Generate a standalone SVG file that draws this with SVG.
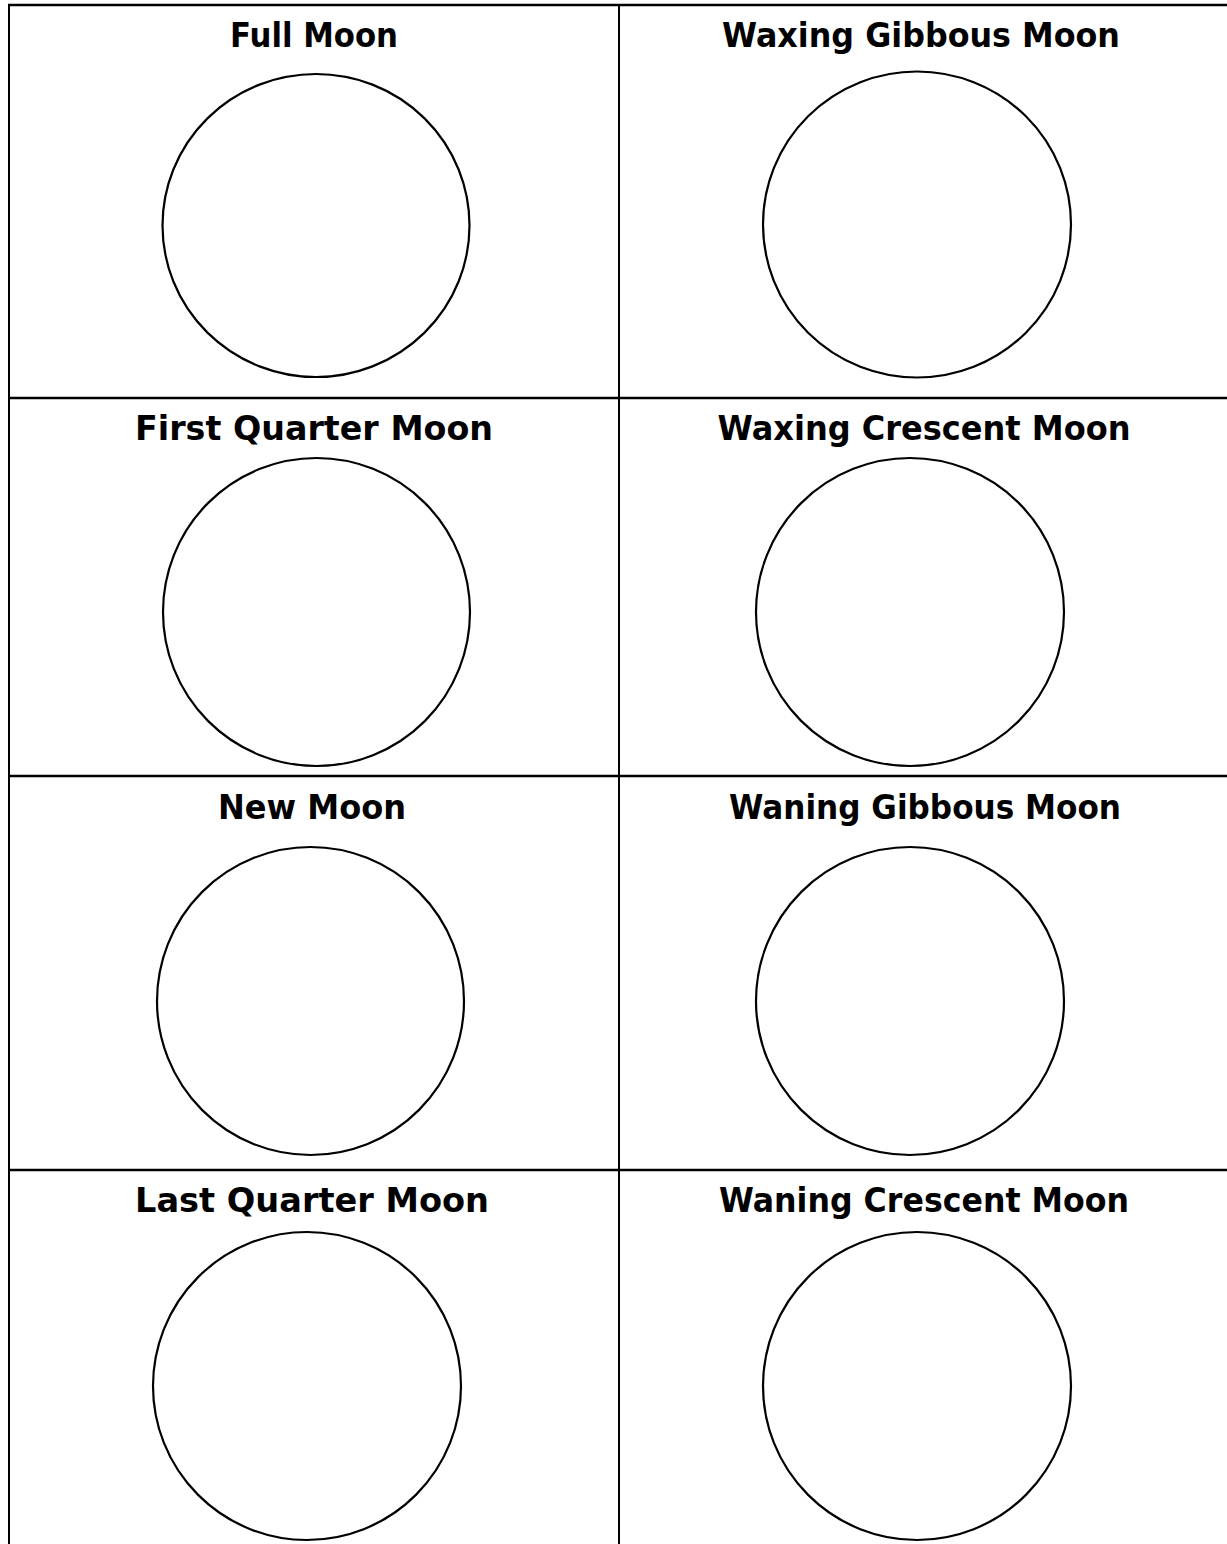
<svg xmlns="http://www.w3.org/2000/svg" width="1227" height="1544" viewBox="0 0 1227 1544">
<style>
.grid{stroke:#000;stroke-width:2.5;fill:none}
.vl{stroke:#000;stroke-width:2;fill:none}
.moon{fill:#fff;stroke:#000;stroke-width:2.2}
.lbl{font-family:"DejaVu Sans","Liberation Sans",sans-serif;font-weight:bold;font-size:33px;text-anchor:middle;fill:#000}
</style>
<rect width="1227" height="1544" fill="#fff"/>
<g id="table">
<line class="grid" x1="8" y1="5" x2="1227" y2="5"/>
<line class="vl" x1="9" y1="4" x2="9" y2="1544"/>
<line class="vl" x1="619" y1="4" x2="619" y2="1544"/>
<line class="grid" x1="8" y1="398" x2="1227" y2="398"/>
<line class="grid" x1="8" y1="776" x2="1227" y2="776"/>
<line class="grid" x1="8" y1="1170" x2="1227" y2="1170"/>
</g>
<g id="full-moon">
<text class="lbl" x="314" y="47" textLength="168" lengthAdjust="spacingAndGlyphs">Full Moon</text>
<ellipse class="moon" cx="316" cy="225.5" rx="153.5" ry="151.5"/>
</g>
<g id="waxing-gibbous">
<text class="lbl" x="921" y="47" textLength="398" lengthAdjust="spacingAndGlyphs">Waxing Gibbous Moon</text>
<ellipse class="moon" cx="917" cy="224.5" rx="154" ry="153"/>
</g>
<g id="first-quarter">
<text class="lbl" x="314" y="440" textLength="358" lengthAdjust="spacingAndGlyphs">First Quarter Moon</text>
<ellipse class="moon" cx="316.5" cy="612" rx="153.5" ry="154"/>
</g>
<g id="waxing-crescent">
<text class="lbl" x="924" y="440" textLength="413" lengthAdjust="spacingAndGlyphs">Waxing Crescent Moon</text>
<ellipse class="moon" cx="910" cy="612" rx="154" ry="154"/>
</g>
<g id="new-moon">
<text class="lbl" x="312" y="819" textLength="188" lengthAdjust="spacingAndGlyphs">New Moon</text>
<ellipse class="moon" cx="310.5" cy="1001" rx="153.5" ry="154"/>
</g>
<g id="waning-gibbous">
<text class="lbl" x="925" y="819" textLength="392" lengthAdjust="spacingAndGlyphs">Waning Gibbous Moon</text>
<ellipse class="moon" cx="910" cy="1001" rx="154" ry="154"/>
</g>
<g id="last-quarter">
<text class="lbl" x="312" y="1212" textLength="354" lengthAdjust="spacingAndGlyphs">Last Quarter Moon</text>
<ellipse class="moon" cx="307" cy="1386" rx="154" ry="154"/>
</g>
<g id="waning-crescent">
<text class="lbl" x="924" y="1212" textLength="410" lengthAdjust="spacingAndGlyphs">Waning Crescent Moon</text>
<ellipse class="moon" cx="917" cy="1386" rx="154" ry="154"/>
</g>
</svg>
